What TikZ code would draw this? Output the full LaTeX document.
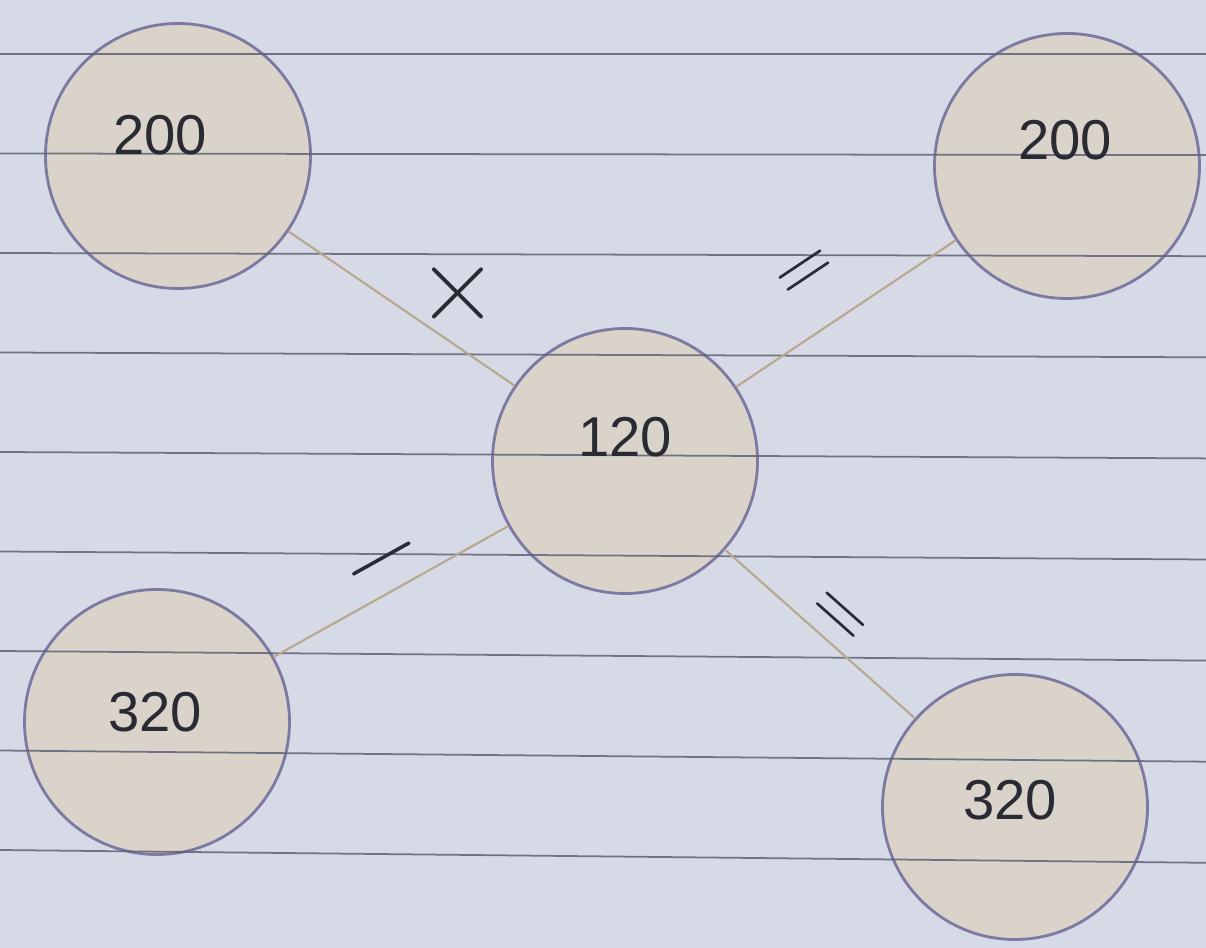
\documentclass[tikz,border=0pt]{standalone}
\usepackage{fontspec}
\setmainfont{Liberation Sans}
\newfontfamily\signfont{Latin Modern Roman}
\definecolor{paper}{HTML}{D6D9E6}
\definecolor{rule}{HTML}{5E6275}
\definecolor{ring}{HTML}{7C7AA3}
\definecolor{disc}{HTML}{D9D3C9}
\definecolor{thread}{HTML}{B8A98E}
\definecolor{ink}{HTML}{2A2A35}
\begin{document}
\begin{tikzpicture}[line join=round, line cap=round,
		ball/.style={circle, draw=ring, line width=1.6pt, fill=disc, minimum size=5.3cm, inner sep=0pt},
		num/.style={font=\fontsize{32}{36}\selectfont, text=ink},
		link/.style={draw=thread, line width=1.2pt},
		optag/.style={font=\signfont\fontsize{46}{50}\selectfont, text=ink, inner sep=0pt}]
			\fill[paper] (0,0) rectangle (24.12,18.96);
			\useasboundingbox (0,0) rectangle (24.12,18.96);
			
			\node[ball] (tl) at (3.56,15.84) {};
			\node[ball] (tr) at (21.34,15.64) {};
			\node[ball] (mid) at (12.5,9.74) {};
			\node[ball] (bl) at (3.14,4.52) {};
			\node[ball] (br) at (20.3,2.82) {};
			
			% ruled paper
			\foreach \i in {0,...,8}
				\draw[rule, line width=1pt, draw opacity=0.85] (0,{(894-99.5*\i)/50}) -- (24.12,{(894-101.1*\i)/50});
			
			\node[num] (tlnum) at (3.2,16.26) {200};
			\node[num] (trnum) at (21.3,16.16) {200};
			\node[num] (midnum) at (12.5,10.22) {120};
			\node[num] (blnum) at (3.1,4.72) {320};
			\node[num] (brnum) at (20.2,2.96) {320};
			
			\draw[link] (tl) -- (mid) node[optag, pos=0.75, yshift=1.05cm, font=\signfont\fontsize{64}{68}\selectfont] {×};
			\draw[link] (tr) -- (mid) node[optag, pos=0.54, sloped, above=1.05cm, anchor=center] {=};
			\draw[link] (bl) -- (mid) node[optag, pos=0.53, sloped, above=0.42cm, anchor=center, font=\signfont\fontsize{60}{64}\selectfont] {−};
			\draw[link] (br) -- (mid) node[optag, pos=0.49, sloped, above=0.45cm, anchor=center] {=};
			
		\end{tikzpicture}
\end{document}
